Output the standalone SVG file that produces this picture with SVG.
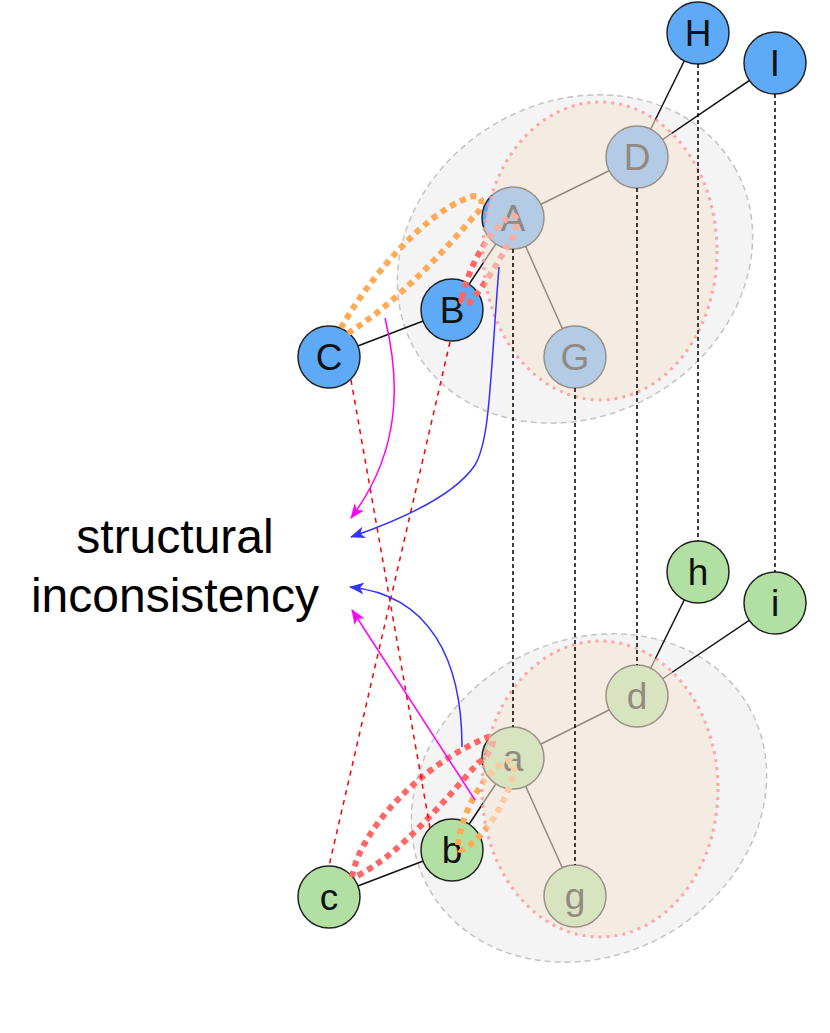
<svg xmlns="http://www.w3.org/2000/svg" width="830" height="1033" viewBox="0 0 830 1033">
<defs>
<style>
.grayell{fill:#f4f4f4;stroke:#c4c4c4;stroke-width:1.5;stroke-dasharray:6 4}
.overlay{fill:#f5e4d4;fill-opacity:0.57;stroke:#ff9a9a;stroke-opacity:0.85;stroke-width:3;stroke-dasharray:3 5}
.edge{stroke:#111;stroke-width:1.5;fill:none}
.blue{fill:#5eaaf7;stroke:#222;stroke-width:1.5}
.green{fill:#b2e0a2;stroke:#222;stroke-width:1.5}
.lbl{font-family:"Liberation Sans",Arial,sans-serif;font-size:37px;text-anchor:middle;fill:#111}
.vdash{stroke:#000;stroke-width:1.5;stroke-dasharray:4 3;fill:none}
.rdash{stroke:#ff0000;stroke-width:1.5;stroke-dasharray:5 5;fill:none}
.oloop{fill:none;stroke:#ffaa55;stroke-width:6;stroke-dasharray:6 5}
.rloop{fill:none;stroke:#ff6666;stroke-width:6;stroke-dasharray:6 5}
.mag{stroke:#ff00ff;stroke-width:1.5;fill:none;marker-end:url(#am)}
.blu{stroke:#3333ff;stroke-width:1.5;fill:none;marker-end:url(#ab)}
.big{font-family:"Liberation Sans",Arial,sans-serif;font-size:48px;text-anchor:middle;fill:#000}
</style>
<marker id="am" markerUnits="userSpaceOnUse" markerWidth="16" markerHeight="12" refX="14" refY="6" orient="auto"><path d="M0,0 L15,6 L0,12 L4,6 Z" fill="#ff00ff"/></marker>
<marker id="ab" markerUnits="userSpaceOnUse" markerWidth="16" markerHeight="12" refX="14" refY="6" orient="auto"><path d="M0,0 L15,6 L0,12 L4,6 Z" fill="#3333ff"/></marker>
</defs>

<g id="backgrounds">
<ellipse class="grayell" cx="575" cy="259" rx="184" ry="157" transform="rotate(-30 575 259)"/>
<ellipse class="grayell" cx="589" cy="798" rx="184" ry="157" transform="rotate(-30 589 798)"/>
</g>

<g id="edges">
<line class="edge" x1="329" y1="357" x2="452" y2="310"/>
<line class="edge" x1="452" y1="310" x2="513" y2="218"/>
<line class="edge" x1="513" y1="218" x2="637" y2="157"/>
<line class="edge" x1="513" y1="218" x2="575" y2="357"/>
<line class="edge" x1="637" y1="157" x2="698" y2="33"/>
<line class="edge" x1="637" y1="157" x2="775" y2="63"/>
<line class="edge" x1="329" y1="897" x2="452" y2="850"/>
<line class="edge" x1="452" y1="850" x2="513" y2="758"/>
<line class="edge" x1="513" y1="758" x2="637" y2="696"/>
<line class="edge" x1="513" y1="758" x2="575" y2="896"/>
<line class="edge" x1="637" y1="696" x2="698" y2="572"/>
<line class="edge" x1="637" y1="696" x2="775" y2="603"/>
</g>

<g id="node-H"><circle class="blue" cx="698" cy="33" r="31"/><text class="lbl" x="698" y="46">H</text></g>
<g id="node-I"><circle class="blue" cx="775" cy="63" r="31"/><text class="lbl" x="775" y="76">I</text></g>
<g id="node-D"><circle class="blue" cx="637" cy="157" r="31"/><text class="lbl" x="637" y="170">D</text></g>
<g id="node-A"><circle class="blue" cx="513" cy="218" r="31"/><text class="lbl" x="513" y="231">A</text></g>
<g id="node-B"><circle class="blue" cx="452" cy="310" r="31"/><text class="lbl" x="452" y="323">B</text></g>
<g id="node-C"><circle class="blue" cx="329" cy="357" r="31"/><text class="lbl" x="329" y="370">C</text></g>
<g id="node-G"><circle class="blue" cx="575" cy="357" r="31"/><text class="lbl" x="575" y="370">G</text></g>

<g id="node-h"><circle class="green" cx="698" cy="572" r="31"/><text class="lbl" x="698" y="585">h</text></g>
<g id="node-i"><circle class="green" cx="775" cy="603" r="31"/><text class="lbl" x="775" y="616">i</text></g>
<g id="node-d"><circle class="green" cx="637" cy="696" r="31"/><text class="lbl" x="637" y="709">d</text></g>
<g id="node-a"><circle class="green" cx="513" cy="758" r="31"/><text class="lbl" x="513" y="771">a</text></g>
<g id="node-b"><circle class="green" cx="452" cy="850" r="31"/><text class="lbl" x="452" y="863">b</text></g>
<g id="node-c"><circle class="green" cx="329" cy="897" r="31"/><text class="lbl" x="329" y="910">c</text></g>
<g id="node-g"><circle class="green" cx="575" cy="896" r="31"/><text class="lbl" x="575" y="909">g</text></g>

<g id="loops">
<path class="oloop" d="M341,328 C365,285 420,215 470,197 C485,192 484,208 475,215 C445,250 395,305 345,335"/>
<path class="rloop" d="M462,298 C468,270 485,235 510,216 C520,212 518,232 508,245 C498,262 485,285 470,302 C464,305 460,302 462,298 Z"/>
<path class="rloop" d="M352,877 C360,830 420,765 488,737 C498,735 492,755 478,763 C445,800 400,855 355,877"/>
<path class="oloop" d="M458,845 C460,820 480,775 505,762 C516,757 516,770 510,785 C502,808 485,835 466,848 C460,852 457,849 458,845 Z"/>
</g>

<g id="overlays">
<ellipse class="overlay" cx="600" cy="251" rx="117" ry="149"/>
<ellipse class="overlay" cx="600" cy="789" rx="118" ry="148"/>
</g>

<g id="connectors">
<line class="vdash" x1="513" y1="249" x2="513" y2="727"/>
<line class="vdash" x1="575" y1="388" x2="575" y2="865"/>
<line class="vdash" x1="637" y1="188" x2="637" y2="665"/>
<line class="vdash" x1="698" y1="64" x2="698" y2="541"/>
<line class="vdash" x1="775" y1="94" x2="775" y2="572"/>
<line class="rdash" x1="351" y1="380" x2="430" y2="828"/>
<line class="rdash" x1="450" y1="342" x2="329" y2="866"/>
<path class="mag" d="M385,318 C400,380 402,450 351,518"/>
<path class="blu" d="M499,267 C490,380 490,440 475,465 C455,495 400,520 351,537"/>
<path class="blu" d="M462,747 C462,660 430,595 350,587"/>
<path class="mag" d="M475,800 L352,610"/>
</g>

<g id="label">
<text class="big" x="175" y="553">structural</text>
<text class="big" x="175" y="612">inconsistency</text>
</g>
</svg>
